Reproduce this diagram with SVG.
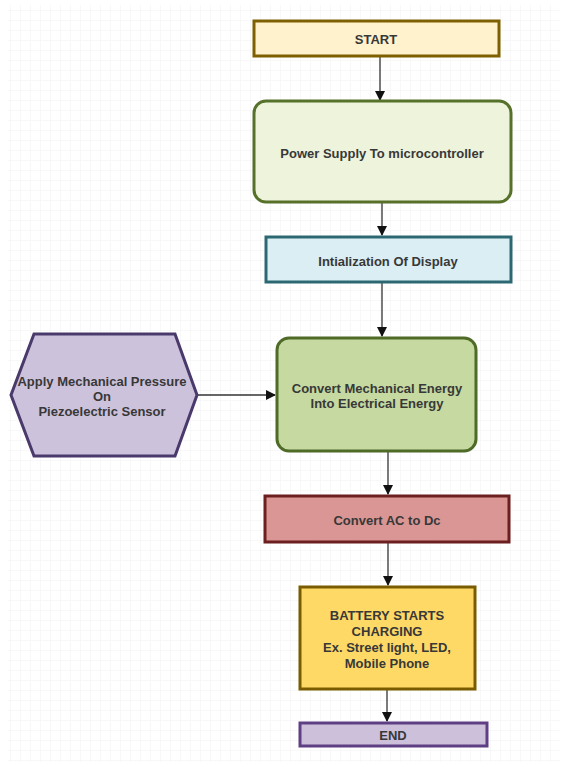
<svg xmlns="http://www.w3.org/2000/svg" width="569" height="767" viewBox="0 0 569 767">
<defs>
<pattern id="grid" width="10" height="10" patternUnits="userSpaceOnUse">
<path d="M10 0H0V10" fill="none" stroke="#f2f2f2" stroke-width="1"/>
</pattern>
<marker id="ah" markerWidth="10" markerHeight="10" refX="9" refY="5" orient="auto" markerUnits="userSpaceOnUse">
<path d="M0,0 L10,5 L0,10 Z" fill="#111"/>
</marker>
</defs>
<style>
.t{font-family:"Liberation Sans",Arial,sans-serif;font-size:13px;font-weight:bold;fill:#383838;text-anchor:middle;dominant-baseline:central}
.c{stroke:#333;stroke-width:1.3;fill:none;marker-end:url(#ah)}
.n{stroke-width:3}
</style>
<rect width="569" height="767" fill="#fff"/>
<rect x="8" y="5" width="552" height="757" fill="url(#grid)"/>
<g id="connectors">
<path class="c" d="M380 57V100"/>
<path class="c" d="M382 203V235"/>
<path class="c" d="M382 283V336"/>
<path class="c" d="M198 395H275"/>
<path class="c" d="M388 452V494"/>
<path class="c" d="M388 543V585"/>
<path class="c" d="M387 690V721"/>
</g>
<g id="start">
<rect class="n" x="254" y="21" width="245" height="35" fill="#fff2cc" stroke="#7f6000"/>
<text class="t" x="376" y="39">START</text>
</g>
<g id="power">
<rect class="n" x="254" y="101" width="257" height="101" rx="12" fill="#eef3dc" stroke="#56712a"/>
<text class="t" x="382" y="153">Power Supply To microcontroller</text>
</g>
<g id="init">
<rect class="n" x="266" y="237" width="245" height="45" fill="#daeef3" stroke="#2c6872"/>
<text class="t" x="388" y="261">Intialization Of Display</text>
</g>
<g id="apply">
<polygon class="n" points="11,395 34,334 175,334 197,395 175,456 34,456" fill="#cdc2dc" stroke="#4a3a6c"/>
<text class="t" x="102" y="381">Apply Mechanical Pressure</text>
<text class="t" x="102" y="396">On</text>
<text class="t" x="102" y="411">Piezoelectric Sensor</text>
</g>
<g id="convert">
<rect class="n" x="277" y="338" width="199" height="113" rx="12" fill="#c5d9a0" stroke="#4f6b28"/>
<text class="t" x="377" y="388">Convert Mechanical Energy</text>
<text class="t" x="377" y="403">Into Electrical Energy</text>
</g>
<g id="acdc">
<rect class="n" x="265" y="496" width="244" height="46" fill="#da9694" stroke="#6b1f1f"/>
<text class="t" x="387" y="520">Convert AC to Dc</text>
</g>
<g id="battery">
<rect class="n" x="300" y="587" width="175" height="102" fill="#ffd966" stroke="#7a5c00"/>
<text class="t" x="387" y="615">BATTERY STARTS</text>
<text class="t" x="387" y="631">CHARGING</text>
<text class="t" x="387" y="647">Ex. Street light, LED,</text>
<text class="t" x="387" y="663">Mobile Phone</text>
</g>
<g id="end">
<rect class="n" x="300" y="723" width="187" height="23" fill="#ccc0da" stroke="#5f3f84"/>
<text class="t" x="393" y="735">END</text>
</g>
</svg>
